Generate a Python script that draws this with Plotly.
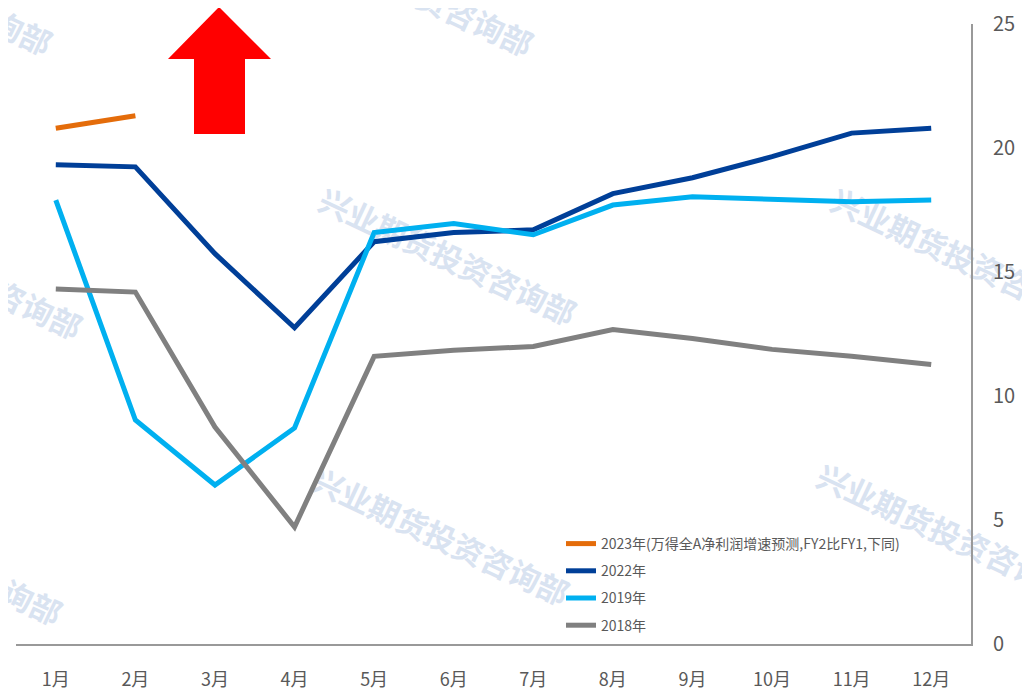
import plotly.graph_objects as go

months = ["1月", "2月", "3月", "4月", "5月", "6月", "7月", "8月", "9月", "10月", "11月", "12月"]
y2023 = [20.8, 21.3]
y2022 = [19.32, 19.24, 15.74, 12.75, 16.22, 16.59, 16.7, 18.16, 18.8, 19.65, 20.6, 20.8]
y2019 = [17.9, 9.03, 6.41, 8.71, 16.59, 16.95, 16.5, 17.7, 18.03, 17.95, 17.83, 17.9]
y2018 = [14.31, 14.19, 8.75, 4.72, 11.6, 11.84, 12.0, 12.68, 12.32, 11.88, 11.6, 11.27]

names = ["2023年(万得全A净利润增速预测,FY2比FY1,下同)", "2022年", "2019年", "2018年"]
colors = ["#E46C0A", "#003F98", "#00B0F0", "#808080"]
series = [y2023, y2022, y2019, y2018]

# page is offset by the default 8px body margin
OFF = 8
W, H = 1030 - OFF, 691 - OFF
# desired plot area in page pixels: x 16..971, y 24..644
PX0, PX1, PY0, PY1 = 16, 971, 24, 644
ML, MT = PX0 - OFF, PY0 - OFF
MR, MB = W - (PX1 - OFF), H - (PY1 - OFF)
PW, PH = PX1 - PX0, PY1 - PY0


def px2paper(px, py):
    return (px - PX0) / PW, (PY1 - py) / PH


fig = go.Figure()
for name, col, ys in zip(names, colors, series):
    fig.add_trace(go.Scatter(
        x=months[:len(ys)], y=ys, name=name, mode="lines", legendgroup=name,
        line=dict(color=col, width=5),
    ))

# watermarks (below traces)
wm_text = "兴业期货投资咨询部"
wm_centers = [(403, -9), (-78, -10), (446, 260), (-48, 274), (958, 260),
              (439, 540), (944, 536), (-68, 560)]
shapes = []
for cx, cy in wm_centers:
    x0, y0 = px2paper(cx - 40, cy - 19)
    x1, y1 = px2paper(cx + 40, cy + 19)
    shapes.append(dict(
        type="line", xref="paper", yref="paper", x0=x0, y0=y0, x1=x1, y1=y1,
        line=dict(color="rgba(0,0,0,0)", width=0), layer="below",
        label=dict(text=wm_text, textangle=25, textposition="middle",
                   xanchor="center", yanchor="middle",
                   font=dict(family="Noto Sans CJK SC", size=31, color="#d9e3f1", weight="bold")),
    ))

# red arrow
pts = [(219, 7), (271, 59), (245, 59), (245, 134), (194, 134), (194, 59), (168, 59)]
pp = [px2paper(x, y) for x, y in pts]
path = "M" + " L".join(f"{x:.5f},{y:.5f}" for x, y in pp) + " Z"
shapes.append(dict(type="path", xref="paper", yref="paper", path=path,
                   fillcolor="#FF0000", line=dict(color="#FF0000", width=0), layer="above"))

fig.update_layout(
    width=W, height=H,
    margin=dict(l=ML, r=MR, t=MT, b=MB, autoexpand=False),
    paper_bgcolor="white", plot_bgcolor="rgba(0,0,0,0)",
    font=dict(family="Noto Sans CJK SC", color="#595959"),
    showlegend=True,
    legend=dict(x=px2paper(561, 0)[0], xanchor="left", y=px2paper(0, 528)[1], yanchor="top",
                bgcolor="rgba(0,0,0,0)", font=dict(size=14, color="#595959"),
                traceorder="grouped", tracegroupgap=6),
    shapes=shapes,
    xaxis=dict(type="category", range=[-0.5, 11.5], showgrid=False, showline=True,
               linecolor="#999999", linewidth=2, ticks="", tickfont=dict(size=18, color="#595959"),
               ticklabelstandoff=18, zeroline=False, automargin=False),
    yaxis=dict(side="right", range=[0, 25], dtick=5, showgrid=False, showline=True,
               linecolor="#999999", linewidth=2, ticks="", tickfont=dict(size=20, color="#595959"),
               ticklabelstandoff=16, zeroline=False, automargin=False),
)

fig.write_html("out.html")
